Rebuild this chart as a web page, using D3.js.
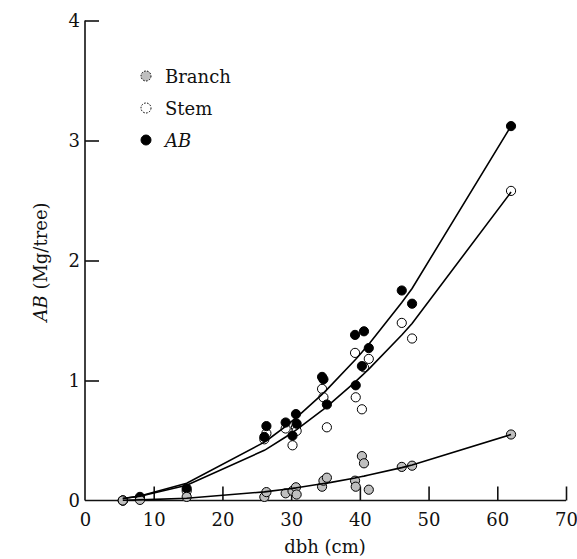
<!DOCTYPE html>
<html><head><meta charset="utf-8">
<script src="https://cdn.jsdelivr.net/npm/d3@7"></script>
<style>body{margin:0;background:#fff}svg{display:block}text{font-family:"DejaVu Serif",serif;fill:#111}</style>
</head><body>
<script>
// Tree diameters (cm)
const dbh = [5.5, 8, 14.8, 26.1, 26.4, 29.2, 30.2, 30.7, 30.8, 34.5, 34.7, 35.2, 39.3, 39.4, 40.3, 40.6, 41.3, 46.1, 47.6, 62];
// Observed biomass (Mg/tree)
const branchObs = [0.0, 0.005, 0.03, 0.03, 0.07, 0.06, 0.08, 0.11, 0.05, 0.115, 0.165, 0.19, 0.165, 0.115, 0.37, 0.31, 0.09, 0.28, 0.29, 0.55];
const stemObs   = [0.0, 0.02, 0.08, 0.51, 0.56, 0.60, 0.46, 0.61, 0.58, 0.93, 0.86, 0.61, 1.23, 0.86, 0.76, 1.11, 1.18, 1.48, 1.35, 2.58];
const abObs     = [0.0, 0.03, 0.10, 0.53, 0.62, 0.65, 0.54, 0.72, 0.64, 1.03, 1.01, 0.80, 1.38, 0.96, 1.12, 1.41, 1.27, 1.75, 1.64, 3.12];
// Fitted lines
const branchFit = [0.002, 0.005, 0.019, 0.072, 0.074, 0.094, 0.101, 0.105, 0.106, 0.139, 0.141, 0.145, 0.188, 0.190, 0.200, 0.203, 0.212, 0.274, 0.296, 0.55];
const stemFit   = [0.016, 0.035, 0.127, 0.418, 0.428, 0.529, 0.567, 0.587, 0.591, 0.750, 0.760, 0.783, 0.987, 0.992, 1.040, 1.056, 1.095, 1.379, 1.475, 2.57];
const abFit     = [0.017, 0.038, 0.144, 0.486, 0.498, 0.618, 0.665, 0.688, 0.693, 0.885, 0.896, 0.924, 1.171, 1.177, 1.236, 1.256, 1.303, 1.650, 1.767, 3.12];
const xTicks = [0, 10, 20, 30, 40, 50, 60, 70];
const yTicks = [0, 1, 2, 3, 4];
const legendItems = ["Branch", "Stem", "AB"];

const W = 577, H = 559;
const svg = d3.select("body").append("svg").attr("width", W).attr("height", H);
const x = d3.scaleLinear().domain([0, 70]).range([85, 566]);
const y = d3.scaleLinear().domain([0, 4]).range([500.5, 20.5]);

const colors = {Branch: "#bfbfbf", Stem: "#ffffff", AB: "#000000"};

// axes
const xAxis = svg.append("g").attr("transform", `translate(0,${y(0)})`)
  .call(d3.axisBottom(x).tickValues(xTicks).tickSize(-14).tickPadding(24).tickFormat(d3.format("d")));
const yAxis = svg.append("g").attr("transform", `translate(${x(0)},0)`)
  .call(d3.axisLeft(y).tickValues(yTicks).tickSize(-14).tickPadding(5).tickFormat(d3.format("d")));
[xAxis, yAxis].forEach(g => {
  g.select(".domain").attr("stroke", "#111").attr("stroke-width", 1.6);
  g.selectAll(".tick line").attr("stroke", "#111").attr("stroke-width", 1.6);
  g.selectAll(".tick text").style("font-family", '"DejaVu Serif",serif').style("font-size", "18px").attr("fill", "#111");
});
xAxis.selectAll(".tick").filter(d => d === 0).select("line").remove();
yAxis.selectAll(".tick").filter(d => d === 0).select("line").remove();
xAxis.select(".domain").attr("d", `M${x(0)},0H${x(70)}`);
yAxis.select(".domain").attr("d", `M0,${y(0)}V${y(4)}`);
yAxis.selectAll(".tick text").attr("x", -5);
xAxis.selectAll(".tick text").attr("y", 13);

// points
function drawPts(vals, fill) {
  svg.append("g").selectAll("circle").data(dbh.map((d, i) => [d, vals[i]])).join("circle")
    .attr("cx", d => x(d[0])).attr("cy", d => y(d[1])).attr("r", 4.6)
    .attr("fill", fill).attr("stroke", "#000").attr("stroke-width", 1);
}
drawPts(stemObs, colors.Stem);
drawPts(abObs, colors.AB);
drawPts(branchObs, colors.Branch);

// fitted lines
const line = d3.line().x(d => x(d[0])).y(d => y(d[1]));
[branchFit, stemFit, abFit].forEach(f => {
  svg.append("path").datum(dbh.map((d, i) => [d, f[i]])).attr("d", line)
    .attr("fill", "none").attr("stroke", "#000").attr("stroke-width", 1.6);
});

// legend
const leg = svg.append("g");
legendItems.forEach((k, i) => {
  const cy = 76 + i * 32;
  leg.append("circle").attr("cx", 146).attr("cy", cy).attr("r", 5)
    .attr("fill", colors[k]).attr("stroke", "#000").attr("stroke-width", 1)
    .attr("stroke-dasharray", k === "AB" ? null : "1.6,1.4");
  leg.append("text").attr("x", 165).attr("y", cy + 6.5).style("font-size", "18px")
    .style("font-style", k === "AB" ? "italic" : "normal").text(k);
});

// axis titles
svg.append("text").attr("x", 325).attr("y", 553).attr("text-anchor", "middle")
  .style("font-size", "18px").text("dbh (cm)");
const yl = svg.append("text").attr("transform", "translate(47,262) rotate(-90)")
  .attr("text-anchor", "middle").style("font-size", "18px");
yl.append("tspan").style("font-style", "italic").text("AB");
yl.append("tspan").text(" (Mg/tree)");
</script>
</body></html>
